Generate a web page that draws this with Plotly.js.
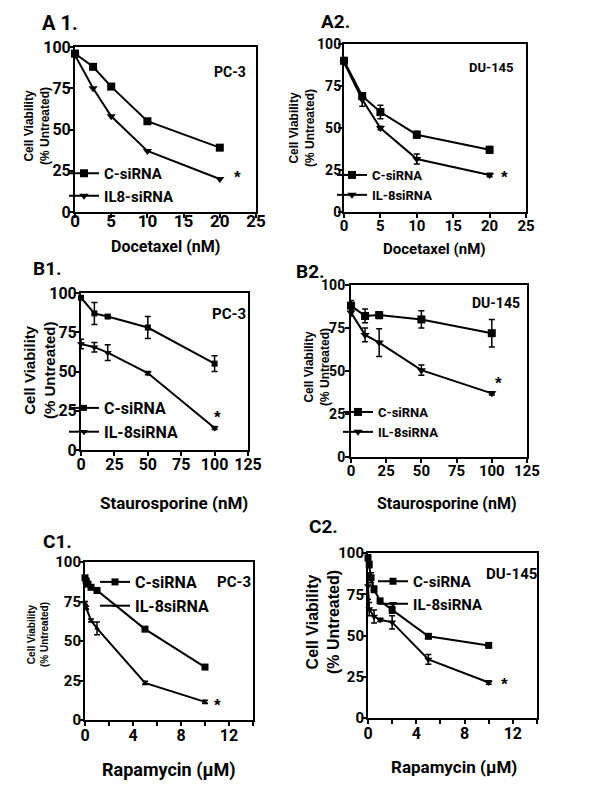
<!DOCTYPE html>
<html>
<head>
<meta charset="utf-8">
<script src="https://cdn.plot.ly/plotly-3.0.1.min.js"></script>
<style>
  body { margin: 0; background: #fff; }
  #graph { width: 600px; height: 800px; }
</style>
</head>
<body>
<div id="graph"></div>
<script>
// DATA
const docetaxelDose = [0, 2.5, 5, 10, 20];
const a1Control = [96, 88, 76, 55, 39];
const a1Il8 = [95, 75, 58, 37, 20];
const a2Control = [90, 69, 59.5, 46, 37];
const a2ControlErr = [2, 2, 4, 2, 2];
const a2Il8 = [89, 67, 50, 31.5, 22];
const a2Il8Err = [1, 4, 1, 3, 1];

const stauroDose = [0, 10, 20, 50, 100];
const b1Control = [97, 87, 85, 78, 55];
const b1ControlErr = [1, 7, 1, 7, 5];
const b1Il8 = [67.5, 65.5, 62, 49, 14];
const b1Il8Err = [3, 3, 5, 1, 1];
const b2Control = [88, 82, 82.5, 80, 72];
const b2ControlErr = [3, 4, 2, 5, 8];
const b2Il8 = [84, 71, 66.5, 50.5, 37];
const b2Il8Err = [2, 4, 8, 3, 1];

const c1ControlDose = [0, 0.1, 0.25, 0.5, 1, 5, 10];
const c1Control = [90, 88, 86, 84, 82, 57.5, 33.5];
const c1Il8Dose = [0, 0.1, 0.5, 1, 5, 10];
const c1Il8 = [74, 71, 63, 58, 23.5, 11.5];
const c1Il8Err = [1, 1, 1, 4, 1, 1];
const c2ControlDose = [0, 0.1, 0.25, 0.5, 1, 2, 5, 10];
const c2Control = [97, 93, 85, 78, 71, 65.5, 49.5, 44];
const c2ControlErr = [2, 2, 3, 2, 1, 2, 1, 1];
const c2Il8Dose = [0, 0.1, 0.5, 1, 2, 5, 10];
const c2Il8 = [80, 66, 61.5, 59.5, 58, 35.5, 21.5];
const c2Il8Err = [8, 4, 4, 1, 4, 3, 1];

// tick labels
const yTicks = [0, 25, 50, 75, 100];
const docetaxelTicks = [0, 5, 10, 15, 20, 25];
const stauroTicks = [0, 25, 50, 75, 100, 125];
const rapaTicks = [0, 2, 4, 6, 8, 10, 12, 14];
const rapaTickText = ["0", "", "4", "", "8", "", "12", ""];

const NARROW = "Roboto, Liberation Sans, sans-serif";
const SANS = "Liberation Sans, Arial, DejaVu Sans, sans-serif";

const W = 600, H = 800;
const px = (x) => x / W;
const py = (y) => 1 - y / H;

// plot box of each panel in pixels: [left, right, top, bottom]
const boxes = {
  a1: [75, 256, 47, 212],
  a2: [344, 526, 44, 212],
  b1: [81, 248, 293, 450],
  b2: [351, 527, 285, 457],
  c1: [85, 253, 562, 720],
  c2: [368, 537, 553, 718],
};

const panelKeys = ["a1", "a2", "b1", "b2", "c1", "c2"];

function xAxis(key, i, range, tickvals, ticktext, size, standoff) {
  const b = boxes[key];
  return {
    domain: [px(b[0]), px(b[1])],
    anchor: "y" + (i === 0 ? "" : i + 1),
    range: range,
    tickmode: "array",
    tickvals: tickvals,
    ticktext: ticktext || tickvals.map(String),
    ticks: "outside",
    ticklen: 4,
    tickwidth: 2,
    tickcolor: "#000",
    ticklabelstandoff: standoff,
    showline: true,
    linewidth: 2,
    linecolor: "#000",
    mirror: true,
    showgrid: false,
    zeroline: false,
    tickfont: { family: NARROW, size: size, color: "#000", weight: "bold" },
    fixedrange: true,
  };
}

function yAxis(key, i, size, standoff) {
  const b = boxes[key];
  return {
    domain: [py(b[3]), py(b[2])],
    anchor: "x" + (i === 0 ? "" : i + 1),
    range: [0, 100],
    tickmode: "array",
    tickvals: yTicks,
    ticks: "outside",
    ticklen: 4,
    tickwidth: 2,
    tickcolor: "#000",
    ticklabelstandoff: standoff,
    showline: true,
    linewidth: 2,
    linecolor: "#000",
    mirror: true,
    showgrid: false,
    zeroline: false,
    tickfont: { family: NARROW, size: size, color: "#000", weight: "bold" },
    fixedrange: true,
  };
}

function series(i, x, y, err, name, symbol, msize) {
  const suffix = i === 0 ? "" : String(i + 1);
  const tr = {
    x: x,
    y: y,
    name: name,
    type: "scatter",
    mode: "lines+markers",
    xaxis: "x" + suffix,
    yaxis: "y" + suffix,
    legend: "legend" + suffix,
    line: { color: "#000", width: 2 },
    marker: { color: "#000", symbol: symbol, size: msize },
    cliponaxis: false,
  };
  if (err) {
    tr.error_y = { type: "data", array: err, visible: true, color: "#000", thickness: 1.5, width: 3 };
  }
  return tr;
}

const data = [
  series(0, docetaxelDose, a1Control, null, "C-siRNA", "square", 8),
  series(0, docetaxelDose, a1Il8, null, "IL8-siRNA", "triangle-down", 8),
  series(1, docetaxelDose, a2Control, a2ControlErr, "C-siRNA", "square", 8),
  series(1, docetaxelDose, a2Il8, a2Il8Err, "IL-8siRNA", "triangle-down", 8),
  series(2, stauroDose, b1Control, b1ControlErr, "C-siRNA", "square", 6),
  series(2, stauroDose, b1Il8, b1Il8Err, "IL-8siRNA", "triangle-down", 7),
  series(3, stauroDose, b2Control, b2ControlErr, "C-siRNA", "square", 8),
  series(3, stauroDose, b2Il8, b2Il8Err, "IL-8siRNA", "triangle-down", 8),
  series(4, c1ControlDose, c1Control, null, "C-siRNA", "square", 7),
  series(4, c1Il8Dose, c1Il8, c1Il8Err, "IL-8siRNA", "triangle-up", 5),
  series(5, c2ControlDose, c2Control, c2ControlErr, "C-siRNA", "square", 7),
  series(5, c2Il8Dose, c2Il8, c2Il8Err, "IL-8siRNA", "triangle-down", 7),
];

// legend: [text start x, first item center y, font size]
const legendSpots = [
  [106, 172, 15],
  [374, 175, 13],
  [106, 406, 16],
  [380, 412, 13],
  [137, 580, 16],
  [415, 580, 15],
];

const layout = {
  width: W,
  height: H,
  margin: { l: 0, r: 0, t: 0, b: 0 },
  paper_bgcolor: "#fff",
  plot_bgcolor: "#fff",
  showlegend: true,
  annotations: [],
};

const xRanges = [[0, 25], [0, 25], [0, 125], [0, 125], [0, 14], [0, 14]];
const xTickSets = [docetaxelTicks, docetaxelTicks, stauroTicks, stauroTicks, rapaTicks, rapaTicks];
const xTickTexts = [null, null, null, null, rapaTickText, rapaTickText];
const xTickSizes = [17, 15, 16, 15, 16, 16];
const yTickSizes = [16, 14, 16, 14, 15, 15];
// ticklabelstandoff must be an integer
const xStandoffs = [-11, -5, -5, -5, -4, -4];
const yStandoffs = [-5, -6, -5, -3, -5, -5];

panelKeys.forEach((key, i) => {
  const suffix = i === 0 ? "" : String(i + 1);
  layout["xaxis" + suffix] = xAxis(key, i, xRanges[i], xTickSets[i], xTickTexts[i], xTickSizes[i], xStandoffs[i]);
  layout["yaxis" + suffix] = yAxis(key, i, yTickSizes[i], yStandoffs[i]);
  const spot = legendSpots[i];
  layout["legend" + suffix] = {
    x: px(spot[0] - 42),
    y: py(spot[1] - 15),
    xanchor: "left",
    yanchor: "top",
    bgcolor: "rgba(0,0,0,0)",
    borderwidth: 0,
    itemwidth: 30,
    tracegroupgap: 0,
    font: { family: NARROW, size: spot[2], color: "#000", weight: "bold" },
  };
});

function note(text, x, y, size, family, extra) {
  return Object.assign({
    text: text,
    x: px(x),
    y: py(y),
    xref: "paper",
    yref: "paper",
    xanchor: "center",
    yanchor: "middle",
    showarrow: false,
    font: { family: family, size: size, color: "#000", weight: "bold" },
  }, extra || {});
}

// panel labels
const panelLabels = [
  ["A 1.", 60, 23, 20],
  ["A2.", 335, 22, 19],
  ["B1.", 47, 269, 19],
  ["B2.", 310, 271, 19],
  ["C1.", 57, 541, 19],
  ["C2.", 323, 526, 19],
];
panelLabels.forEach((p) => layout.annotations.push(note(p[0], p[1], p[2], p[3], NARROW)));

// cell line labels
const cellLabels = [
  ["PC-3", 230, 72, 14],
  ["DU-145", 492, 68, 13],
  ["PC-3", 229, 314, 15],
  ["DU-145", 496, 303, 14],
  ["PC-3", 234, 582, 15],
  ["DU-145", 511, 574, 15],
];
cellLabels.forEach((c) => layout.annotations.push(note(c[0], c[1], c[2], c[3], NARROW)));

// y titles
const yTitles = [
  [37, 126, 12],
  [302, 128, 12],
  [39, 370, 15],
  [317, 367, 12],
  [38, 635, 10],
  [323, 622, 16],
];
yTitles.forEach((t) => layout.annotations.push(
  note("Cell Viability<br>(% Untreated)", t[0], t[1], t[2], SANS, { textangle: -90 })
));

// x titles
const xTitles = [
  ["Docetaxel (nM)", 165, 246, 16],
  ["Docetaxel (nM)", 434, 249, 15],
  ["Staurosporine (nM)", 174, 503, 17],
  ["Staurosporine (nM)", 447, 503, 16],
  ["Rapamycin (\u03bcM)", 169, 770, 18],
  ["Rapamycin (\u03bcM)", 454, 767, 17],
];
xTitles.forEach((t) => layout.annotations.push(note(t[0], t[1], t[2], t[3], NARROW)));

// significance stars, in data coords
const starSpots = [[22.4, 23.6], [22, 23], [102.5, 23.5], [104.4, 45.3], [11, 12], [11.3, 23]];
starSpots.forEach((s, i) => {
  const suffix = i === 0 ? "" : String(i + 1);
  layout.annotations.push({
    text: "*",
    x: s[0],
    y: s[1],
    xref: "x" + suffix,
    yref: "y" + suffix,
    showarrow: false,
    yshift: -4,
    font: { family: SANS, size: 17, color: "#000", weight: "bold" },
  });
});

Plotly.newPlot("graph", data, layout, { staticPlot: true, displayModeBar: false });
</script>
</body>
</html>
